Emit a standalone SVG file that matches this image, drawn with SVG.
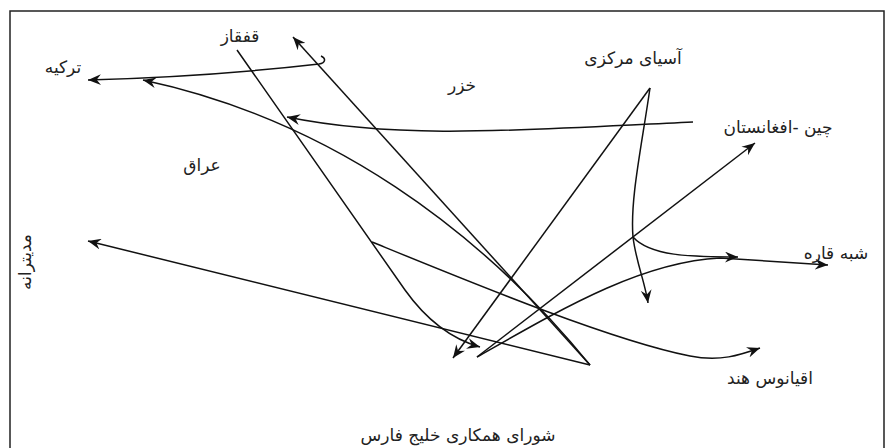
<svg xmlns="http://www.w3.org/2000/svg" width="887" height="448" viewBox="0 0 887 448">
<style>
.frame{fill:none;stroke:#222;stroke-width:1.5}
.c{fill:none;stroke:#111;stroke-width:1.5}
.t{font-family:"DejaVu Sans",sans-serif;font-size:17px;fill:#222;text-anchor:middle}
</style>
<defs>
<marker id="ah" viewBox="0 0 12 10" refX="12" refY="5" markerWidth="13" markerHeight="11" orient="auto" markerUnits="userSpaceOnUse">
<path d="M0,0 L12,5 L0,10 L4,5 z" fill="#111"/>
</marker>
</defs>
<rect width="887" height="448" fill="#fff"/>
<path class="frame" d="M10,448 L10,11 L884,11 L884,448"/>
<g id="connectors">
<path class="c" d="M321,56 C326,58 326,63 319,64 C250,72 160,78 88,80" marker-end="url(#ah)"/>
<path class="c" d="M590,365 C480,230 330,120 143,80" marker-end="url(#ah)"/>
<path class="c" d="M237,50 L405,290 C425,318 448,338 480,347" marker-end="url(#ah)"/>
<path class="c" d="M372,242 C470,282 610,340 690,356 C720,362 740,355 760,348" marker-end="url(#ah)"/>
<path class="c" d="M590,365 L88,241" marker-end="url(#ah)"/>
<path class="c" d="M590,365 L293,37" marker-end="url(#ah)"/>
<path class="c" d="M650,88 L453,358" marker-end="url(#ah)"/>
<path class="c" d="M650,88 C641,150 630,200 633,237 C636,262 645,282 648,303" marker-end="url(#ah)"/>
<path class="c" d="M633,237 C650,256 690,257 738,257" marker-end="url(#ah)"/>
<path class="c" d="M477,357 C560,310 640,262 720,258 L828,265" marker-end="url(#ah)"/>
<path class="c" d="M477,357 L755,143" marker-end="url(#ah)"/>
<path class="c" d="M693,122 C520,130 400,140 287,117" marker-end="url(#ah)"/>
</g>
<g id="n-ghafghaz"><text class="t" x="240" y="42">قفقاز</text></g>
<g id="n-turkey"><text class="t" x="63" y="73">ترکیه</text></g>
<g id="n-khazar"><text class="t" x="462" y="91">خزر</text></g>
<g id="n-central-asia"><text class="t" x="633" y="64">آسیای مرکزی</text></g>
<g id="n-china-afghanistan"><text class="t" x="778" y="133">چین -افغانستان</text></g>
<g id="n-iraq"><text class="t" x="202" y="171">عراق</text></g>
<g id="n-mediterranean"><text class="t" transform="translate(31,262) rotate(-90)">مدیترانه</text></g>
<g id="n-subcontinent"><text class="t" x="836" y="259">شبه قاره</text></g>
<g id="n-indian-ocean"><text class="t" x="770" y="384">اقیانوس هند</text></g>
<g id="n-gcc"><text class="t" x="458" y="441">شورای همکاری خلیج فارس</text></g>
</svg>
